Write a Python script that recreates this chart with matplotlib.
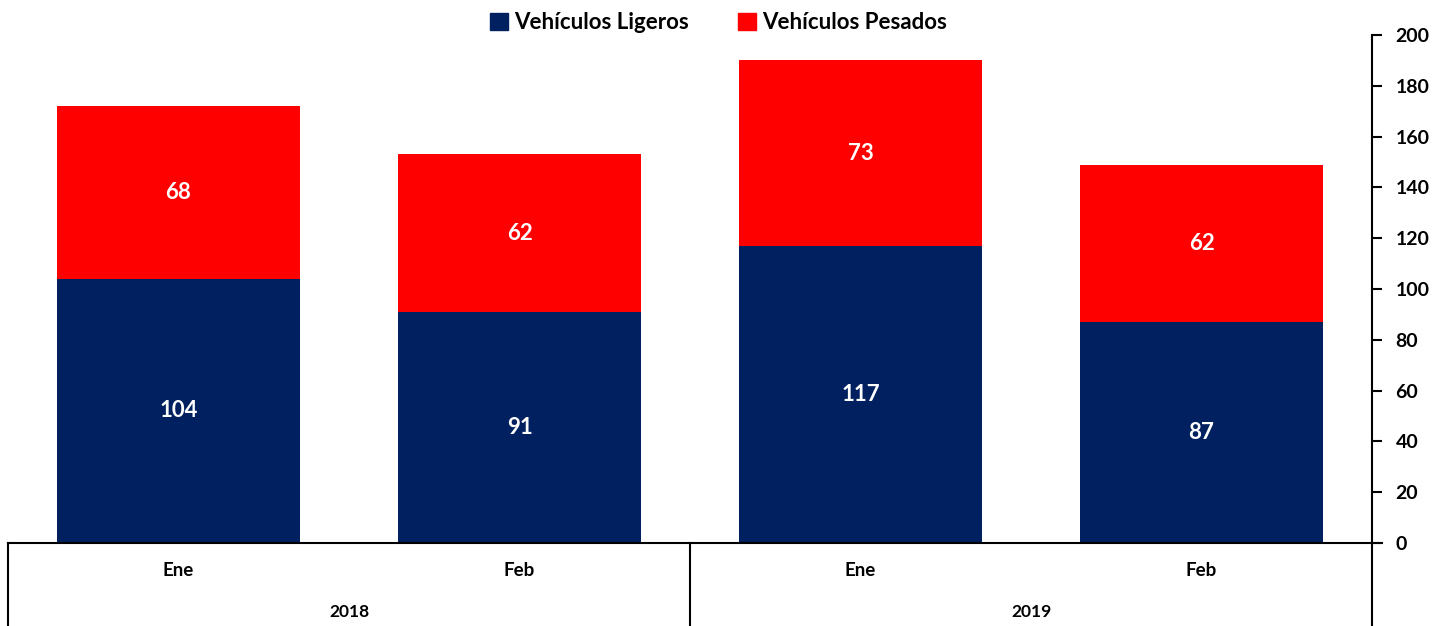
import matplotlib.pyplot as plt
import matplotlib.transforms as mtransforms
from matplotlib.patches import Patch

# data
months = ["Ene", "Feb", "Ene", "Feb"]
years = ["2018", "2019"]
ligeros = [104, 91, 117, 87]
pesados = [68, 62, 73, 62]

navy = "#00205F"
red = "#FF0000"

plt.rcParams['font.family'] = ['Lato', 'DejaVu Sans']
plt.rcParams['font.weight'] = 'bold'

fig = plt.figure(figsize=(14.46, 6.26), dpi=100)
ax = fig.add_axes([8/1446, 83/626, 1364/1446, 508/626])

x = range(len(months))
ax.bar(x, ligeros, width=0.71, color=navy, label="Vehículos Ligeros")
ax.bar(x, pesados, width=0.71, bottom=ligeros, color=red, label="Vehículos Pesados")

# value labels inside the bars
for i in x:
    ax.text(i, ligeros[i] / 2, str(ligeros[i]), ha='center', va='center',
            color='white', fontsize=16, fontweight='bold')
    ax.text(i, ligeros[i] + pesados[i] / 2, str(pesados[i]), ha='center', va='center',
            color='white', fontsize=16, fontweight='bold')

ax.set_xlim(-0.5, 3.5)
ax.set_ylim(0, 200)
ax.set_yticks(range(0, 201, 20))
ax.yaxis.tick_right()
ax.tick_params(axis='y', direction='out', length=7, width=1.5, labelsize=14, pad=10)
ax.tick_params(axis='x', length=0, labelbottom=False)
for lbl in ax.get_yticklabels():
    lbl.set_fontweight('bold')

for s in ['top', 'left']:
    ax.spines[s].set_visible(False)
ax.spines['right'].set_linewidth(1.5)
ax.spines['bottom'].set_linewidth(1.5)

# two-level category axis
trans = mtransforms.blended_transform_factory(ax.transData, ax.transAxes)
for xb in [-0.5, 1.5, 3.5]:
    ax.plot([xb, xb], [0, -0.2], transform=trans, color='black', lw=1.5, clip_on=False)
ax.plot([3.5, 3.53], [0, 0], transform=trans, color='black', lw=1.5, clip_on=False)
for i, m in enumerate(months):
    ax.text(i, -0.055, m, transform=trans, ha='center', va='center', fontsize=13.5, fontweight='bold')
for j, yr in enumerate(years):
    ax.text(0.5 + 2 * j, -0.135, yr, transform=trans, ha='center', va='center', fontsize=12.5, fontweight='bold')

handles = [Patch(color=navy, label="Vehículos Ligeros"), Patch(color=red, label="Vehículos Pesados")]
fig.legend(handles=handles, loc='upper center', bbox_to_anchor=(0.497, 1.012), ncol=2, frameon=False,
           handlelength=0.8, handleheight=0.8, handletextpad=0.3, columnspacing=2.2,
           prop={'weight': 'bold', 'size': 16})

fig.savefig("out.png", dpi=100)
